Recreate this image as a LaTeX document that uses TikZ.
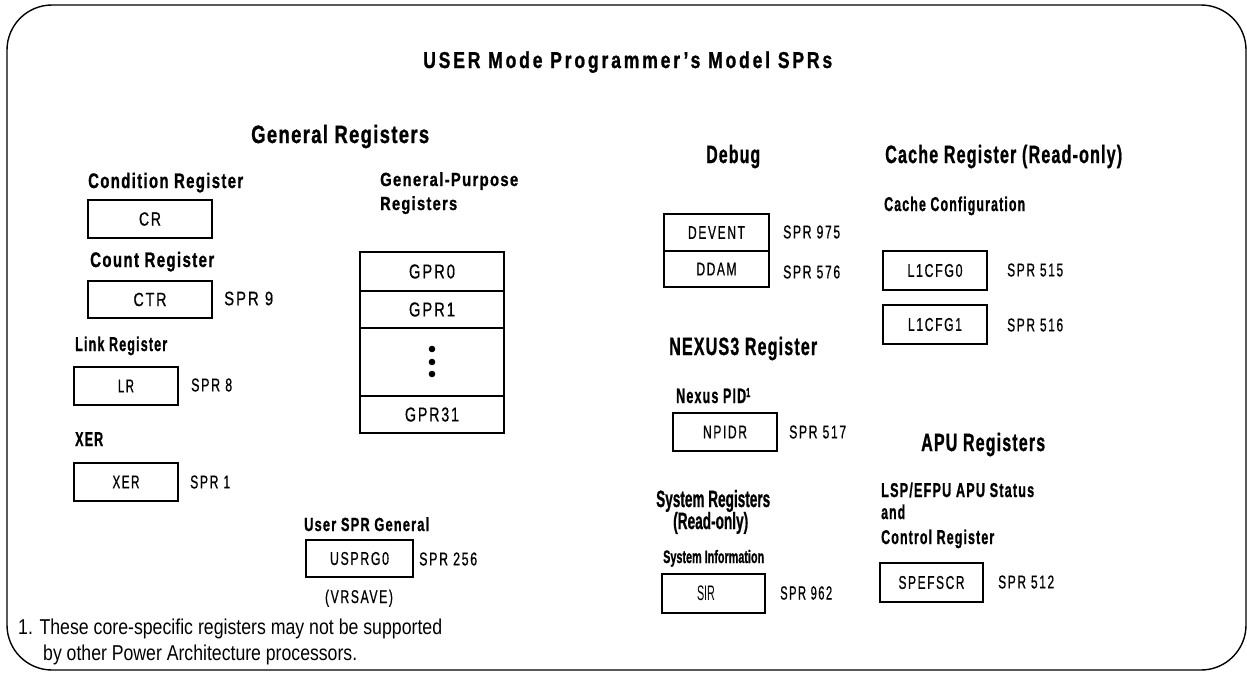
\documentclass[tikz,border=0pt]{standalone}
\usepackage{fontspec}
\usepackage{graphicx}
\setmainfont{Liberation Sans}
\newfontfamily\fTitle[LetterSpace=16, BoldFeatures={FakeBold=1.2}]{Liberation Sans}
\newfontfamily\fHead[LetterSpace=7, BoldFeatures={FakeBold=1.2}]{Liberation Sans}
\newfontfamily\fSub[LetterSpace=9, BoldFeatures={FakeBold=1.2}]{Liberation Sans}
\newfontfamily\fReg[LetterSpace=13, FakeBold=0.8]{Liberation Sans}
\newfontfamily\fPlain[BoldFeatures={FakeBold=1.2}]{Liberation Sans}
\newcommand\FitW[2]{\resizebox{#1pt}{\height}{#2}}
\newcommand\FS[1]{\fontsize{#1}{#1}\selectfont}
\tikzset{
  txt/.style={inner sep=0pt, anchor=base west},
  ctxt/.style={inner sep=0pt, anchor=base},
  lab/.style={inner sep=0pt, anchor=west},
  regbox/.style={draw, line width=1.1pt, inner sep=0pt},
  hd/.style={txt, font=\fHead\bfseries\FS{25}},
  sb/.style={txt, font=\fSub\bfseries\FS{#1}},
  rg/.style={font=\fReg\FS{#1}},
}
\begin{document}
\begin{tikzpicture}[x=1pt,y=-1pt]
\useasboundingbox (0,0) rectangle (1247,672);
% frame
\draw[line width=1.4pt, rounded corners=45pt] (7,340) -- (7,5) -- (1246,5) -- (1246,670) -- (7,670) -- cycle;

% title
\node[txt, font=\fTitle\bfseries\FS{23}] (title) at (423,68) {\FitW{409}{USER Mode Programmer’s Model SPRs}};

% section headings
\node[hd] (genreg) at (251,143) {\FitW{178}{General Registers}};
\node[hd] (debug) at (706,163) {\FitW{54}{Debug}};
\node[hd] (cache) at (885,163) {\FitW{237}{Cache Register (Read-only)}};
\node[hd] (nexus) at (669,355) {\FitW{148}{NEXUS3 Register}};
\node[hd] (apu) at (921,451) {\FitW{124}{APU Registers}};

% sub headings
\node[sb=21] (condl) at (88,188) {\FitW{155}{Condition Register}};
\node[sb=21] (countl) at (90,267) {\FitW{124}{Count Register}};
\node[sb=19] (gpl1) at (380,186) {\FitW{138}{General-Purpose}};
\node[sb=19] (gpl2) at (380,210) {\FitW{77}{Registers}};
\node[sb=20] (linkl) at (75,351) {\FitW{92}{Link Register}};
\node[sb=20] (xerl) at (75,446) {\FitW{28}{XER}};
\node[sb=19] (uspl) at (304,531) {\FitW{125}{User SPR General}};
\node[sb=20] (cconf) at (884,211) {\FitW{141}{Cache Configuration}};
\node[sb=21] (npidl) at (676,403) {\FitW{70}{Nexus PID}\raisebox{6pt}{\FitW{4}{\FS{13}1}}};
\node[sb=20] (lsp1) at (881,497) {\FitW{153}{LSP/EFPU APU Status}};
\node[sb=20] (lsp2) at (881,519) {\FitW{24}{and}};
\node[sb=20] (lsp3) at (881,544) {\FitW{113}{Control Register}};

% condensed headings
\node[txt, font=\fPlain\bfseries\FS{23.5}] (sysreg1) at (656,507) {\FitW{114}{System Registers}};
\node[txt, font=\fPlain\bfseries\FS{23.5}] (sysreg2) at (673,529) {\FitW{75}{(Read-only)}};
\node[txt, font=\fPlain\bfseries\FS{18}] (sysinfo) at (663,563) {\FitW{101}{System Information}};

% register boxes
\node[regbox, rg=19, minimum width=124pt, minimum height=38pt] (cr) at (150,219) {\FitW{22}{CR}};
\node[regbox, rg=19, minimum width=124pt, minimum height=37pt] (ctr) at (150,299.5) {\FitW{33}{CTR}};
\node[regbox, rg=18.5, minimum width=104pt, minimum height=38pt] (lr) at (126,386) {\FitW{16}{LR}};
\node[regbox, rg=18.5, minimum width=104pt, minimum height=38pt] (xer) at (126,482) {\FitW{27}{XER}};

\node[regbox, rg=20, minimum width=144pt, minimum height=39pt] (gpr0) at (432,271.5) {\FitW{46}{GPR0}};
\node[regbox, rg=20, minimum width=144pt, minimum height=37pt] (gpr1) at (432,309.5) {\FitW{46}{GPR1}};
\node[regbox, minimum width=144pt, minimum height=68pt] (gprd) at (432,362) {};
\node[regbox, rg=20, minimum width=144pt, minimum height=37pt] (gpr31) at (432,414.5) {\FitW{54}{GPR31}};
\fill ([yshift=13pt]gprd.center) circle (3.3pt);
\fill (gprd.center) circle (3.3pt);
\fill ([yshift=-12pt]gprd.center) circle (3.3pt);

\node[regbox, rg=18.5, minimum width=107pt, minimum height=37pt] (usprg) at (359.5,558.5) {\FitW{59}{USPRG0}};

\node[regbox, line width=1.3pt, rg=18.5, minimum width=105pt, minimum height=37pt] (devent) at (716.5,232.5) {\FitW{57}{DEVENT}};
\node[regbox, line width=1.3pt, rg=18.5, minimum width=105pt, minimum height=36pt] (ddam) at (716.5,269) {\FitW{40}{DDAM}};

\node[regbox, rg=18.5, minimum width=104pt, minimum height=38pt] (npidr) at (725,432) {\FitW{44}{NPIDR}};
\node[regbox, minimum width=103pt, minimum height=39pt] (sir) at (713.5,593.5) {};
\node[inner sep=0pt, font=\fPlain\FS{21}] (sirt) at (706,593.5) {\FitW{18}{SIR}};

\node[regbox, rg=18.5, minimum width=104pt, minimum height=39pt] (l1c0) at (935,270.5) {\FitW{55}{L1CFG0}};
\node[regbox, rg=18.5, minimum width=104pt, minimum height=39pt] (l1c1) at (935,324.5) {\FitW{54}{L1CFG1}};
\node[regbox, rg=18.5, minimum width=103pt, minimum height=39pt] (spef) at (931.5,582.5) {\FitW{66}{SPEFSCR}};

% SPR numbers
\node[lab, rg=19.5] (spr9) at (224,298.5) {\FitW{49}{SPR 9}};
\node[lab, rg=18.5] (spr8) at (191,385) {\FitW{41}{SPR 8}};
\node[lab, rg=18.5] (spr1) at (190,482) {\FitW{40}{SPR 1}};
\node[lab, rg=18.5] (spr256) at (419,559) {\FitW{58}{SPR 256}};
\node[ctxt, rg=18.5] (vrsave) at (359,603) {\FitW{68}{(VRSAVE)}};
\node[lab, rg=18.5] (spr975) at (783,232) {\FitW{57}{SPR 975}};
\node[lab, rg=18.5] (spr576) at (783,272) {\FitW{57}{SPR 576}};
\node[lab, rg=18.5] (spr517) at (789,432) {\FitW{57}{SPR 517}};
\node[lab, rg=19] (spr962) at (780,593) {\FitW{52}{SPR 962}};
\node[lab, rg=18.5] (spr515) at (1007,270) {\FitW{56}{SPR 515}};
\node[lab, rg=18.5] (spr516) at (1007,325) {\FitW{56}{SPR 516}};
\node[lab, rg=18.5] (spr512) at (998,582) {\FitW{56}{SPR 512}};

% footnote
\node[txt, font=\fPlain\FS{21.5}] (fn1) at (18,634) {\FitW{424}{1. These core-specific registers may not be supported}};
\node[txt, font=\fPlain\FS{21.5}] (fn2) at (43,660) {\FitW{314}{by other Power Architecture processors.}};
\end{tikzpicture}
\end{document}
